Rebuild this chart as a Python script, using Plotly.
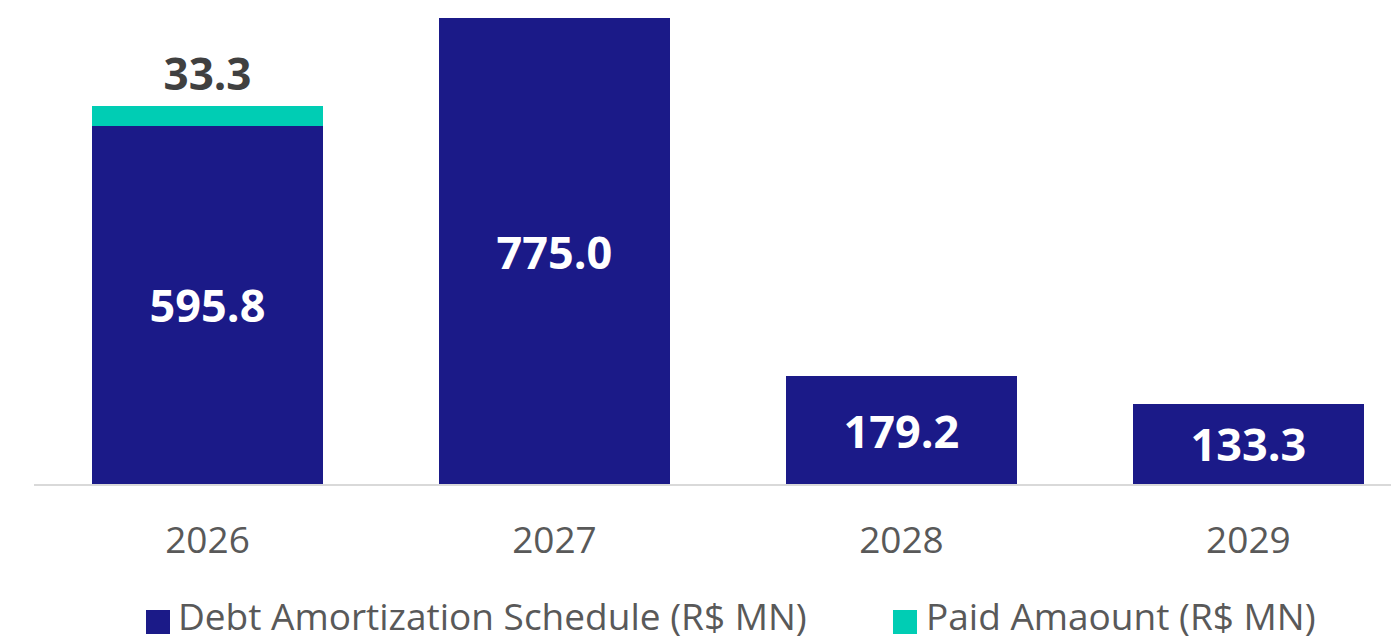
import plotly.graph_objects as go

years = ["2026", "2027", "2028", "2029"]
schedule = [595.8, 775.0, 179.2, 133.3]
paid = [33.3, None, None, None]
series_names = ["Debt Amortization Schedule (R$ MN)", "Paid Amaount (R$ MN)"]

NAVY = "#1B1A88"
TEAL = "#00CDB4"
FONT = "Open Sans"

# page has an 8px body margin; figure coordinates are page - 8
W, H = 1391, 633
L, B = 26, 157
PW, PH = W - L, H - B  # plot area size


def px(xpage):
    return (xpage - 8 - L) / PW


def py(ypage):
    return (PH - (ypage - 8)) / PH


fig = go.Figure()
fig.add_trace(go.Bar(
    x=years, y=schedule, name=series_names[0], marker_color=NAVY,
    marker_line_width=0,
    text=[f"{v:.1f}" for v in schedule], textposition="inside",
    insidetextanchor="middle", constraintext="none",
    textfont=dict(family=FONT, size=45, color="white", weight="bold"),
    showlegend=False, width=0.666,
))
fig.add_trace(go.Bar(
    x=years, y=paid, name=series_names[1], marker_color=TEAL,
    marker_line_width=0,
    text=[f"{v:.1f}" if v is not None else "" for v in paid], textposition="outside",
    constraintext="none", cliponaxis=False,
    textfont=dict(family=FONT, size=44, color="#404040", weight="bold"),
    showlegend=False, width=0.666,
))

# manual legend (large square swatches)
leg = [(146, NAVY, series_names[0], 180), (893, TEAL, series_names[1], 928)]
for sx, col, label, tx in leg:
    fig.add_shape(type="rect", xref="paper", yref="paper",
                  x0=px(sx), x1=px(sx + 24), y0=py(634), y1=py(610),
                  fillcolor=col, line_width=0)
    fig.add_annotation(xref="paper", yref="paper", x=px(tx) - 0.002,
                       y=py(615), xanchor="left", yanchor="middle",
                       text=label, showarrow=False, borderpad=0,
                       font=dict(family=FONT, size=37, color="#595959"))

fig.update_layout(
    barmode="stack",
    width=W, height=H,
    margin=dict(l=L, r=0, t=0, b=B),
    paper_bgcolor="white", plot_bgcolor="white",
    font=dict(family=FONT, color="#595959"),
    xaxis=dict(type="category", range=[-0.5, 3.434], showline=True,
               linecolor="#D9D9D9", linewidth=2, ticks="",
               tickfont=dict(size=37, color="#595959"),
               ticklabelstandoff=23, showgrid=False, zeroline=False),
    yaxis=dict(range=[0, PH / (466 / 775)], visible=False, showgrid=False,
               zeroline=False),
)

fig.write_html("out.html")
